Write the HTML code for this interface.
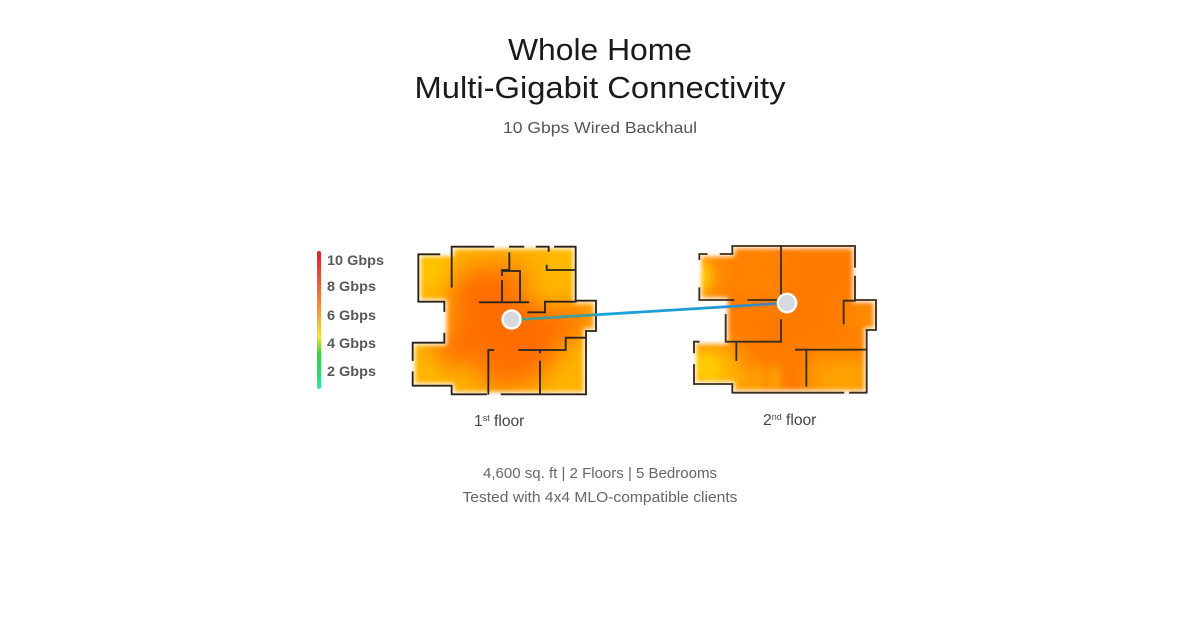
<!DOCTYPE html>
<html><head><meta charset="utf-8">
<style>
html,body{margin:0;padding:0;background:#fff}
svg{display:block}
text{font-family:"Liberation Sans",sans-serif}
</style></head>
<body>
<svg width="1200" height="630" viewBox="0 0 1200 630" xmlns="http://www.w3.org/2000/svg">
<defs>
<filter id="b1" x="-40%" y="-40%" width="180%" height="180%"><feGaussianBlur stdDeviation="36"/></filter>
<filter id="b2" x="-10%" y="-10%" width="120%" height="120%"><feGaussianBlur stdDeviation="7"/></filter>
<filter id="b3" x="-60%" y="-60%" width="220%" height="220%"><feGaussianBlur stdDeviation="12"/></filter>
<clipPath id="i1"><path d="M62 64H162V42H520V204H581V281H551V471H162V445H45V330H140V193H62Z"/></clipPath>
<clipPath id="i2"><path d="M65 65H164V40H518V202H581V278H553V466H164V440H49V327H144V188H65Z"/></clipPath>
<linearGradient id="leg" x1="0" y1="0" x2="0" y2="1">
<stop offset="0" stop-color="#e0202a"/><stop offset=".3" stop-color="#f0703a"/><stop offset=".5" stop-color="#f5b040"/><stop offset=".62" stop-color="#f4e62c"/><stop offset=".75" stop-color="#35d040"/><stop offset=".9" stop-color="#20e070"/><stop offset="1" stop-color="#30e8b0"/>
</linearGradient>
<linearGradient id="wire" gradientUnits="userSpaceOnUse" x1="511" y1="320" x2="787" y2="303">
<stop offset="0" stop-color="#4f9a88"/><stop offset=".3" stop-color="#3fa09a"/><stop offset=".32" stop-color="#18a8d8"/><stop offset=".7" stop-color="#1d9ad6"/><stop offset=".9" stop-color="#3f86c0"/><stop offset="1" stop-color="#708090"/>
</linearGradient>
</defs>
<rect width="1200" height="630" fill="#fff"/>

<text x="600" y="60" text-anchor="middle" font-size="31" fill="#1a1a1a" textLength="184" lengthAdjust="spacingAndGlyphs">Whole Home</text>
<text x="600" y="98" text-anchor="middle" font-size="31" fill="#1a1a1a" textLength="371" lengthAdjust="spacingAndGlyphs">Multi-Gigabit Connectivity</text>
<text x="600" y="133" text-anchor="middle" font-size="16" fill="#555" textLength="194" lengthAdjust="spacingAndGlyphs">10 Gbps Wired Backhaul</text>

<!-- legend -->
<rect x="317" y="251" width="4" height="138" rx="2" fill="url(#leg)"/>
<g font-size="14" font-weight="bold" fill="#58585a">
<text x="327" y="265" textLength="57" lengthAdjust="spacingAndGlyphs">10 Gbps</text>
<text x="327" y="291" textLength="49" lengthAdjust="spacingAndGlyphs">8 Gbps</text>
<text x="327" y="320" textLength="49" lengthAdjust="spacingAndGlyphs">6 Gbps</text>
<text x="327" y="348" textLength="49" lengthAdjust="spacingAndGlyphs">4 Gbps</text>
<text x="327" y="376" textLength="49" lengthAdjust="spacingAndGlyphs">2 Gbps</text>
</g>

<!-- floor 1 -->
<g transform="translate(400 235) scale(.33333)">
<g filter="url(#b2)"><g clip-path="url(#i1)">
<rect x="0" y="0" width="630" height="510" fill="#ffb000"/>
<g filter="url(#b1)">
<path d="M150 130L230 90 330 90 390 110 350 190 450 215 590 225 570 280 480 320 480 370 400 440 280 470 220 380 120 400 90 340 150 290Z" fill="#ff7000"/>
<path d="M240 200H430V340H280Z" fill="#ff6c00"/>
<circle cx="90" cy="105" r="42" fill="#ffd800"/>
<circle cx="490" cy="75" r="40" fill="#ffc800"/>
<circle cx="470" cy="170" r="25" fill="#ffc000"/>
<circle cx="75" cy="410" r="34" fill="#ffc400"/>
<circle cx="510" cy="430" r="34" fill="#ffbc00"/>
</g>
</g></g>
<g fill="none" stroke="#2a241e" stroke-width="5.5" stroke-linecap="square">
<path d="M118 58H55V200H133V228"/>
<path d="M133 296V323H38V375"/>
<path d="M38 412V452H155V478H258"/>
<path d="M305 478H558V288H588V197H527V35H465"/>
<path d="M155 155V35H280"/>
<path d="M330 35H370M410 35H446V48"/>
<path d="M328 55V105H306V120M306 138V202M240 202H385M360 108H306M360 108V202"/>
<path d="M440 92V105H525"/>
<path d="M385 232H435V200H527"/>
<path d="M265 345H280M265 345V476"/>
<path d="M358 345H497V308H558"/>
<path d="M420 380V476M420 345V352"/>
</g>
</g>

<!-- floor 2 -->
<g transform="translate(680 235) scale(.33333)">
<g filter="url(#b2)"><g clip-path="url(#i2)">
<rect x="0" y="0" width="630" height="510" fill="#ff7a00"/>
<g filter="url(#b1)">
<rect x="-20" y="330" width="190" height="150" fill="#ffc000"/>
<rect x="385" y="365" width="200" height="130" fill="#ffa400"/>
<rect x="170" y="400" width="100" height="90" fill="#ffa000"/>
<rect x="-10" y="50" width="100" height="150" fill="#ffb800"/>
<rect x="130" y="30" width="170" height="160" fill="#ff8400"/>
<rect x="500" y="210" width="100" height="70" fill="#ff9400"/>
</g>
<ellipse cx="230" cy="430" rx="14" ry="40" fill="#ffa000" filter="url(#b3)"/>
<ellipse cx="285" cy="430" rx="14" ry="40" fill="#ffa800" filter="url(#b3)"/>
<ellipse cx="340" cy="440" rx="16" ry="26" fill="#ff7800" filter="url(#b3)"/>
<ellipse cx="80" cy="395" rx="34" ry="38" fill="#ffcc00" filter="url(#b3)"/>
<ellipse cx="75" cy="125" rx="16" ry="40" fill="#ffc800" filter="url(#b3)"/>
</g></g>
<g fill="none" stroke="#3a2c1c" stroke-width="5.5" stroke-linecap="square">
<path d="M80 57H58V72"/>
<path d="M122 57H157V33H525V95"/>
<path d="M525 125V195H588V285H560V473H510"/>
<path d="M58 160V195H160"/>
<path d="M205 195H303V33"/>
<path d="M137 240V320H303V255"/>
<path d="M42 320H56M42 320V352"/>
<path d="M42 390V447H157V473H490"/>
<path d="M169 322V375"/>
<path d="M348 344H560"/>
<path d="M379 344V452"/>
<path d="M491 265V197H525"/>
</g>
</g>

<!-- connector -->
<line x1="511" y1="320" x2="787" y2="303" stroke="url(#wire)" stroke-width="2.8"/>
<circle cx="511.5" cy="319.5" r="9" fill="#d6dae0" stroke="#fbfbf8" stroke-width="2.4"/>
<circle cx="787" cy="303" r="9.2" fill="#d6dae0" stroke="#fbfbf8" stroke-width="2.4"/>

<!-- floor labels -->
<text x="474" y="426" font-size="15.6" fill="#444">1<tspan font-size="9" dy="-5">st</tspan><tspan dy="5"> floor</tspan></text>
<text x="763" y="425" font-size="15.6" fill="#444">2<tspan font-size="9" dy="-5">nd</tspan><tspan dy="5"> floor</tspan></text>

<text x="600" y="478" text-anchor="middle" font-size="14.5" fill="#666" textLength="234" lengthAdjust="spacingAndGlyphs">4,600 sq. ft | 2 Floors | 5 Bedrooms</text>
<text x="600" y="502" text-anchor="middle" font-size="14.5" fill="#666" textLength="275" lengthAdjust="spacingAndGlyphs">Tested with 4x4 MLO-compatible clients</text>
</svg>
</body></html>
